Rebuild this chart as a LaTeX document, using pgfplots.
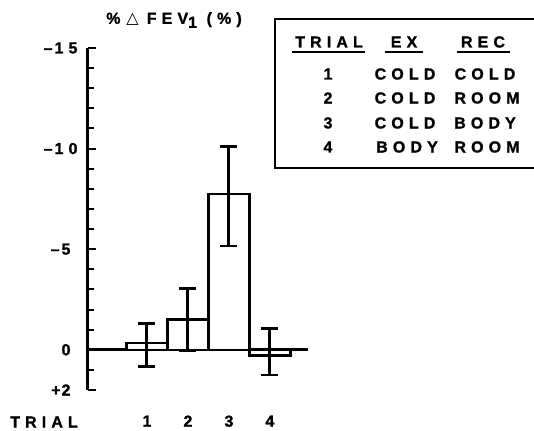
\documentclass[border=0pt]{standalone}
\usepackage{fontspec}
\setmainfont{Liberation Sans Bold}[LetterSpace=32, FakeBold=1.2]
\newfontfamily\dejavu{DejaVu Sans}
\usepackage{pgfplots}
\pgfplotsset{compat=1.18}
\begin{document}
\fontsize{16}{19}\selectfont
\begin{tikzpicture}
\path[use as bounding box] (-88pt,-40pt) rectangle (446pt,390pt);
\begin{axis}[
  at={(0pt,0pt)}, anchor=south west,
  scale only axis, width=220pt, height=342pt,
  xmin=-0.44, xmax=4.93, ymin=-15, ymax=2, y dir=reverse,
  clip=false,
  axis y line=left, axis x line=bottom,
  x axis line style={draw=none},
  y axis line style={-, line width=3pt},
  xtick={1,2,3,4}, xticklabels={1,2,3,4},
  major x tick style={draw=none},
  ytick={-15,-10,-5,0,2},
  yticklabels={{–\kern2pt15},{–\kern2pt10},{–\kern2pt5\kern7pt},{0\kern7pt},{+\kern1pt2\kern7pt}},
  minor ytick={-14,-13,-12,-11,-9,-8,-7,-6,-4,-3,-2,-1,1},
  tick align=inside,
  major tick length=8pt, minor tick length=6pt,
  every tick/.style={line width=2pt, black},
  /pgf/number format/assume math mode=true,
  ticklabel style={font=\fontsize{16}{19}\selectfont},
  xticklabel style={yshift=-20pt},
  yticklabel style={xshift=-5pt},
]
\addplot[black, line width=3pt, forget plot] coordinates {(-0.44,0) (4.93,0)};
\addplot[ybar, bar width=1, fill=white, draw=black, line width=2.5pt,
  error bars/.cd, y dir=both, y explicit,
  error mark=-,
  error mark options={rotate=90, line width=2.5pt, mark size=8.5pt, black}]
  coordinates {
    (1,-0.33) += (0,1.16) -= (0,0.97)
    (2,-1.5)  += (0,1.55) -= (0,1.55)
    (3,-7.75) += (0,2.58) -= (0,2.35)
    (4,0.28)  += (0,0.97) -= (0,1.33)
  };
% error bar stems (same end values as the error bars above)
\addplot[black, line width=3pt, forget plot, mark=none]
  coordinates {(1,-1.30) (1,0.83)};
\addplot[black, line width=3pt, forget plot, mark=none]
  coordinates {(2,-3.05) (2,0.05)};
\addplot[black, line width=3pt, forget plot, mark=none]
  coordinates {(3,-10.1) (3,-5.17)};
\addplot[black, line width=3pt, forget plot, mark=none]
  coordinates {(4,-1.05) (4,1.25)};
\end{axis}
\node at (86pt,370pt) {\%\kern6pt{\dejavu\mdseries △}\kern8pt FEV\raisebox{-4pt}{1} (\%)};
\node at (-44pt,-32pt) {TRIAL};
\draw[line width=2.5pt] (187pt,371pt) rectangle (470pt,222pt);
\node at (241pt,348pt) {TRIAL};
\node at (316pt,348pt) {EX};
\node at (395pt,348pt) {REC};
\draw[line width=2pt] (204pt,338pt) -- (277pt,338pt);
\draw[line width=2pt] (297pt,338pt) -- (335pt,338pt);
\draw[line width=2pt] (369pt,338pt) -- (422pt,338pt);
\node at (240pt,316pt) {1};
\node at (240pt,292pt) {2};
\node at (240pt,267pt) {3};
\node at (240pt,243pt) {4};
\node at (317pt,316pt) {COLD};
\node at (317pt,292pt) {COLD};
\node at (317pt,267pt) {COLD};
\node at (319pt,243pt) {BODY};
\node at (397pt,316pt) {COLD};
\node at (399pt,292pt) {ROOM};
\node at (397pt,267pt) {BODY};
\node at (399pt,243pt) {ROOM};
\end{tikzpicture}
\end{document}
